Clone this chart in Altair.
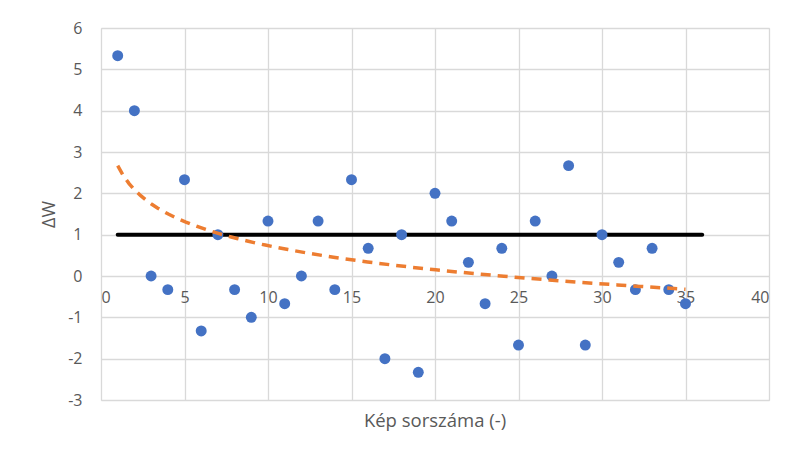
import altair as alt
import pandas as pd

# Image index and measured ΔW values
kep = list(range(1, 36))
delta_w = [
    5.33, 4.0, 0.0, -0.33, 2.33, -1.33, 1.0, -0.33, -1.0, 1.33,
    -0.67, 0.0, 1.33, -0.33, 2.33, 0.67, -2.0, 1.0, -2.33, 2.0,
    1.33, 0.33, -0.67, 0.67, -1.67, 1.33, 0.0, 2.67, -1.67, 1.0,
    0.33, -0.33, 0.67, -0.33, -0.67,
]

# Reference level drawn as a horizontal black line
ref_level = [1.0]
ref_start = [1]
ref_end = [36]

x_ticks = [0, 5, 10, 15, 20, 25, 30, 35, 40]
y_ticks = [-3, -2, -1, 0, 1, 2, 3, 4, 5, 6]

df = pd.DataFrame({"x": kep, "y": delta_w})
ref = pd.DataFrame({"x": ref_start, "x2": ref_end, "y": ref_level})

FONT = "Open Sans"
GRAY = "#595959"
W, H = 668, 372

# plain hyphen for negative tick labels
HYPHEN_LABEL = "datum.value < 0 ? '-' + abs(datum.value) : datum.label"

x_scale = alt.Scale(domain=[0, 40], nice=False, zero=False)
y_scale = alt.Scale(domain=[-3, 6], nice=False, zero=False)

x_axis = alt.Axis(
    values=x_ticks, title=None, grid=True, gridColor="#D9D9D9", gridWidth=1.3,
    domain=False, ticks=False, labelFont=FONT, labelFontSize=16,
    labelColor=GRAY, labelPadding=13, offset=-H * 3 / 9,
)
y_axis = alt.Axis(
    values=y_ticks, title="ΔW", grid=True, gridColor="#D9D9D9", gridWidth=1.3,
    domain=False, ticks=False, labelFont=FONT, labelFontSize=16,
    labelColor=GRAY, labelPadding=19, labelExpr=HYPHEN_LABEL,
    titleFont=FONT, titleFontSize=18, titleColor=GRAY,
    titleFontWeight="normal", titlePadding=9,
)

points = alt.Chart(df).mark_circle(size=120, color="#4472C4", opacity=1).encode(
    x=alt.X("x:Q", scale=x_scale, axis=x_axis),
    y=alt.Y("y:Q", scale=y_scale, axis=y_axis),
)

level = alt.Chart(ref).mark_rule(color="black", strokeWidth=4, strokeCap="round").encode(
    x=alt.X("x:Q", scale=x_scale),
    x2="x2:Q",
    y=alt.Y("y:Q", scale=y_scale),
)

trend = alt.Chart(df).transform_regression(
    "x", "y", method="log", extent=[1, 35]
).mark_line(color="#ED7D31", strokeWidth=3.5, strokeDash=[10, 7]).encode(
    x=alt.X("x:Q", scale=x_scale),
    y=alt.Y("y:Q", scale=y_scale),
)

chart = alt.layer(level, points, trend).properties(
    width=W,
    height=H,
    title=alt.TitleParams(
        "Kép sorszáma (-)", orient="bottom", anchor="middle", font=FONT,
        fontSize=18.5, fontWeight="normal", color=GRAY, offset=4,
    ),
    autosize=alt.AutoSizeParams(type="none"),
    padding={"left": 101, "top": 28, "right": 31, "bottom": 52},
).configure_view(stroke=None).configure(background="white")

chart.save("out.html", embed_options={"renderer": "svg", "actions": False})
